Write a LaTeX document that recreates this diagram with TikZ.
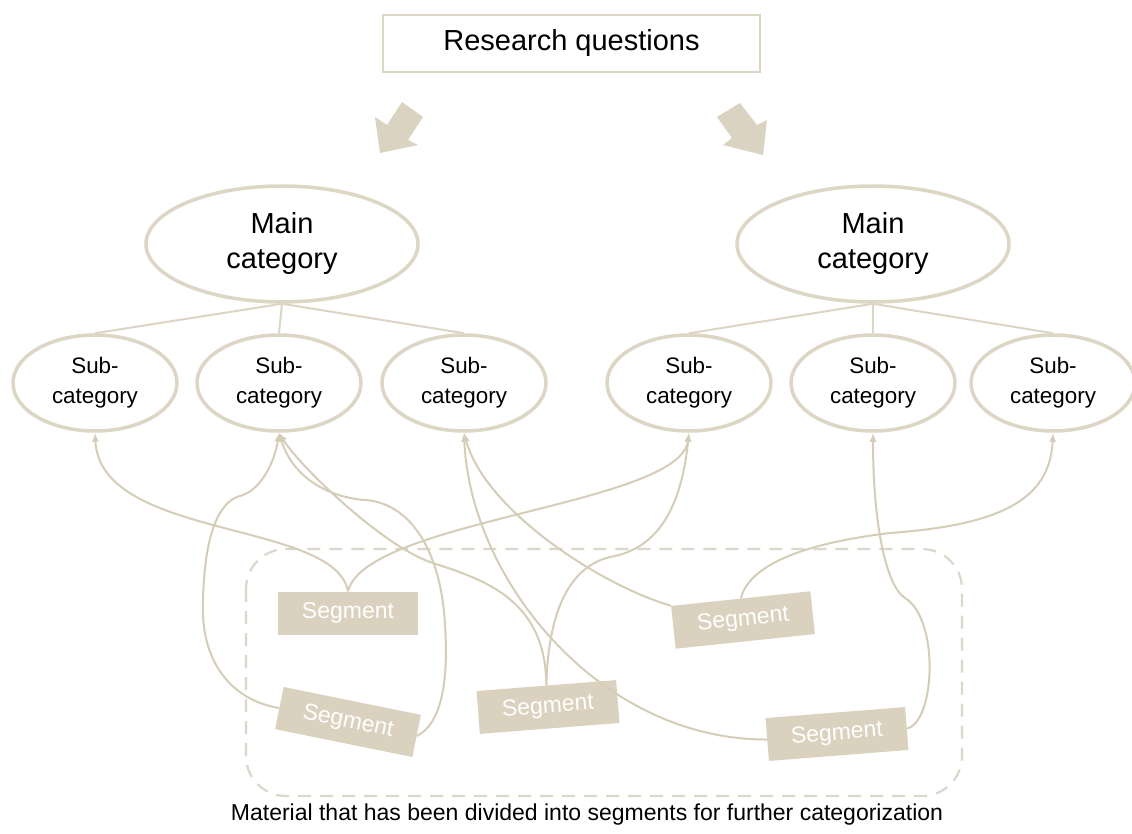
\documentclass[tikz,border=0pt]{standalone}
\usepackage{fontspec}
\setmainfont{Liberation Sans}
\usetikzlibrary{shapes.geometric,arrows.meta}
\definecolor{bord}{HTML}{DDD6C4}
\definecolor{segf}{HTML}{DAD2BE}
\definecolor{conncol}{HTML}{D6CDB8}
\definecolor{dashc}{HTML}{DCD7CB}
\definecolor{arrf}{HTML}{DAD3C1}
\begin{document}
\begin{tikzpicture}[x=1pt,y=-1pt,
  mainell/.style={ellipse, draw=bord, fill=white, line width=3.5pt, minimum width=272pt, minimum height=116pt, inner sep=0pt, align=center, font=\fontsize{29}{35}\selectfont},
  subell/.style={ellipse, draw=bord, fill=white, line width=3.5pt, minimum width=164pt, minimum height=96pt, inner sep=0pt, align=center, font=\fontsize{22.4}{30}\selectfont},
  segbox/.style={fill=segf, minimum width=140pt, minimum height=43pt, inner sep=0pt, text=white, font=\fontsize{23}{27}\selectfont},
  rqbox/.style={draw=bord, line width=2.5pt, minimum width=377pt, minimum height=57pt, inner sep=0pt, font=\fontsize{29}{35}\selectfont},
  treeline/.style={draw=bord, line width=2pt},
  connline/.style={draw=conncol, line width=2pt, -{Latex[length=9pt,width=7pt]}},
  dashbox/.style={draw=dashc, line width=2.2pt, dash pattern=on 13pt off 9pt, rounded corners=40pt},
  blockarrow/.style={fill=arrf}
]
\useasboundingbox (0,0) rectangle (1132,834);
\fill[white] (0,0) rectangle (1132,834);

% research questions
\node[rqbox] (rq) at (571.5,43.5) {Research questions};

% block arrows
\fill[blockarrow] (402,102) -- (423,117) -- (408,140) -- (418,145) -- (380,153) -- (375,117) -- (387,125) -- cycle;
\fill[blockarrow] (740,103) -- (717,117) -- (732,138) -- (723,145) -- (763,155) -- (767,120) -- (757,125) -- cycle;

% main categories
\node[mainell] (m1) at (282,244) {Main\\category};
\node[mainell] (m2) at (873,244) {Main\\category};

% sub categories
\node[subell] (s1) at (95,383) {Sub-\\category};
\node[subell] (s2) at (279,383) {Sub-\\category};
\node[subell] (s3) at (464,383) {Sub-\\category};
\node[subell] (s4) at (689,383) {Sub-\\category};
\node[subell] (s5) at (873,383) {Sub-\\category};
\node[subell] (s6) at (1053,383) {Sub-\\category};

\draw[treeline] (m1.south) -- (s1.north);
\draw[treeline] (m1.south) -- (s2.north);
\draw[treeline] (m1.south) -- (s3.north);
\draw[treeline] (m2.south) -- (s4.north);
\draw[treeline] (m2.south) -- (s5.north);
\draw[treeline] (m2.south) -- (s6.north);

% dashed material frame
\draw[dashbox] (246,549) rectangle (962,796);

% segments
\node[segbox] (g1) at (348,613) {Segment};
\node[segbox, rotate=-11.5] (g2) at (348,722) {Segment};
\node[segbox, rotate=4.5] (g3) at (548,707) {Segment};
\node[segbox, rotate=6] (g4) at (743,620) {Segment};
\node[segbox, rotate=4.5] (g5) at (837,734) {Segment};

% connectors
\draw[connline] (g1.north) .. controls (335,520) and (100,540) .. (s1.south);
\draw[connline] (g1.north) .. controls (365,520) and (680,505) .. (s4.south);
\draw[connline] (g2.west) .. controls (230,700) and (200,660) .. (203,600) .. controls (205,520) and (225,500) .. (240,496) .. controls (262,490) and (275,460) .. (s2.south);
\draw[connline] (g3.north) .. controls (546,600) and (485,580) .. (433,563) .. controls (385,548) and (300,467) .. (s2.south);
\draw[connline] (g2.east) .. controls (445,722) and (448,670) .. (445,625) .. controls (441,550) and (410,503) .. (365,500) .. controls (325,497) and (292,475) .. (s2.south);
\draw[connline] (g5.west) .. controls (600,740) and (470,580) .. (s3.south);
\draw[connline] (g4.north west) .. controls (600,585) and (485,510) .. (s3.south);
\draw[connline] (g3.north) .. controls (548,620) and (565,568) .. (610,557) .. controls (650,550) and (680,520) .. (s4.south);
\draw[connline] (g4.north) .. controls (748,570) and (790,545) .. (890,533) .. controls (1000,525) and (1050,500) .. (s6.south);
\draw[connline] (g5.east) .. controls (935,722) and (940,620) .. (905,598) .. controls (885,585) and (873,520) .. (s5.south);

% caption
\node[font=\fontsize{23}{27}\selectfont] (cap) at (587,815) {Material that has been divided into segments for further categorization};
\end{tikzpicture}
\end{document}
